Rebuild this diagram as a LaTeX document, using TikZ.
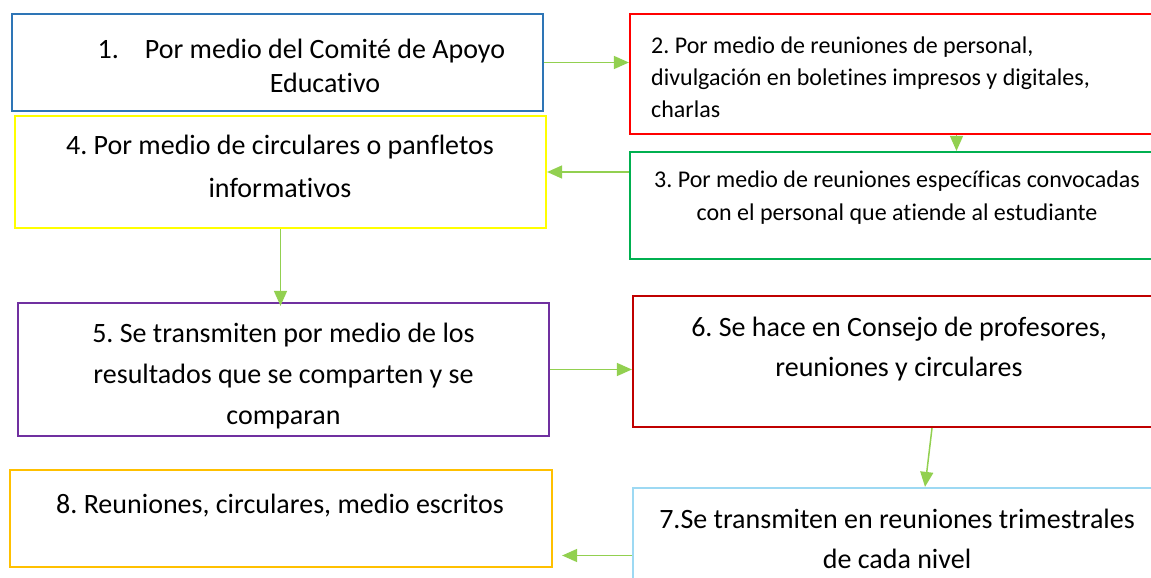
\documentclass[tikz,border=0pt]{standalone}
\usepackage{fontspec}
\setmainfont{Carlito}[Ligatures=NoCommon]
\usepackage{xcolor}
\usetikzlibrary{arrows.meta,positioning,calc}
\frenchspacing

\definecolor{boxblue}{HTML}{2E75B6}
\definecolor{boxred}{HTML}{FF0000}
\definecolor{boxgreen}{HTML}{00B050}
\definecolor{boxyellow}{HTML}{FFFF00}
\definecolor{boxpurple}{HTML}{7030A0}
\definecolor{boxdarkred}{HTML}{C00000}
\definecolor{boxsky}{HTML}{9DD9F3}
\definecolor{boxgold}{HTML}{FFC000}
\definecolor{arrowgreen}{HTML}{92D050}

\begin{document}
\begin{tikzpicture}[
    x=1pt, y=-1pt,
    box/.style={rectangle, draw, line width=2.2pt, inner sep=0pt},
    txt/.style={align=center, inner sep=0pt},
    arrow/.style={-{Triangle[length=15pt,width=13pt]}, line width=1.5pt, draw=arrowgreen}
]
    \useasboundingbox (0,0) rectangle (1151,578);
    \clip (0,0) rectangle (1151,578);

    % Left column
    \node[box, draw=boxblue, minimum width=531, minimum height=97] (b1) at (277.5,62.5) {};
    \node[box, draw=boxyellow, minimum width=531, minimum height=112] (b4) at (280.5,172) {};
    \node[box, draw=boxpurple, minimum width=531, minimum height=133] (b5) at (283.5,369.5) {};
    \node[box, draw=boxgold, minimum width=542, minimum height=97] (b8) at (281,518.5) {};

    % Right column
    \node[box, draw=boxred, minimum width=535, minimum height=120] (b2) at (897.5,74) {};
    \node[box, draw=boxgreen, minimum width=535, minimum height=107] (b3) at (897.5,205.5) {};
    \node[box, draw=boxdarkred, minimum width=532, minimum height=131] (b6) at (899,361.5) {};
    \node[box, draw=boxsky, minimum width=532, minimum height=107] (b7) at (899,541.5) {};

    % Texts
    \node[txt, font=\fontsize{28}{34}\selectfont] (t1) at (325,65.5) {\llap{1.\hspace{26pt}}Por medio del Comité de Apoyo\\Educativo};
    \node[txt, align=left, anchor=west, font=\fontsize{24}{32}\selectfont] (t2) at (651,77) {2. Por medio de reuniones de personal,\\divulgación en boletines impresos y digitales,\\charlas};
    \node[txt, font=\fontsize{24}{33}\selectfont] (t3) at (897,198) {3. Por medio de reuniones específicas convocadas\\con el personal que atiende al estudiante};
    \node[txt, font=\fontsize{28}{43}\selectfont] (t4) at (280,166.5) {4. Por medio de circulares o panfletos\\informativos};
    \node[txt, font=\fontsize{28}{41}\selectfont] (t5) at (283.5,376) {5. Se transmiten por medio de los\\resultados que se comparten y se\\comparan};
    \node[txt, font=\fontsize{28}{40}\selectfont] (t6) at (899,349) {6. Se hace en Consejo de profesores,\\reuniones y circulares};
    \node[txt, font=\fontsize{28}{40}\selectfont] (t7) at (897,539) {7.Se transmiten en reuniones trimestrales\\de cada nivel};
    \node[txt, font=\fontsize{28}{40}\selectfont] (t8) at (280,505.5) {8. Reuniones, circulares, medio escritos};

    % Arrows
    \draw[arrow] (b1.east) -- (b1.east -| b2.west);
    \draw[arrow] ([xshift=59]b2.south) -- ([xshift=59]b3.north);
    \draw[arrow] (b3.west |- b4.east) -- (b4.east);
    \draw[arrow] (b4.south) -- ([yshift=-4]b4.south |- b5.north);
    \draw[arrow] (b5.east) -- (b5.east -| b6.west);
    \draw[arrow] ([xshift=33]b6.south) -- ([xshift=26]b7.north);
    \draw[arrow, shorten >=9pt] ([yshift=-14]b7.west) -- ([yshift=-14]b7.west -| b8.east);
\end{tikzpicture}
\end{document}
